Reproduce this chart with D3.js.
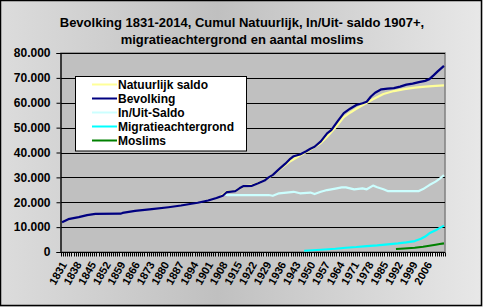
<!DOCTYPE html>
<html><head><meta charset="utf-8">
<script src="https://cdn.jsdelivr.net/npm/d3@7"></script>
<style>
body{margin:0;padding:0;overflow:hidden;}
text{font-family:"Liberation Sans",Arial,sans-serif;font-weight:bold;fill:#000;}
</style></head>
<body><svg id="c" width="483" height="307"></svg>
<script>
const titleLines = ["Bevolking 1831-2014, Cumul Natuurlijk, In/Uit- saldo 1907+,", "migratieachtergrond en aantal moslims"];
const firstYear = 1831, lastYear = 2014;
const yTicks = [0,10000,20000,30000,40000,50000,60000,70000,80000];
const xLabelYears = [1831,1838,1845,1852,1859,1866,1873,1880,1887,1894,1901,1908,1915,1922,1929,1936,1943,1950,1957,1964,1971,1978,1985,1992,1999,2006];

const bevYears  = [1831,1834,1839,1843,1847,1859,1860,1866,1874,1882,1888,1893,1896,1901,1905,1908,1910,1914,1916,1918,1922,1925,1928,1930,1932,1935,1938,1940,1942,1945,1948,1950,1952,1955,1958,1960,1963,1966,1969,1972,1975,1977,1979,1981,1984,1987,1990,1993,1996,1999,2002,2005,2007,2009,2011,2014];
const bevValues = [12000,13200,14000,14800,15300,15400,15700,16500,17200,18000,18700,19400,19800,20700,21700,22600,24100,24500,25600,26500,26600,27600,28700,30000,31000,33300,35500,37200,38500,39200,40500,41500,42300,44500,47700,49000,52500,55800,57600,59100,59800,60400,62500,64000,65400,65700,65900,66500,67300,67700,68300,68800,69500,71000,72600,74800];

const natYears  = [1907,1910,1914,1918,1922,1926,1930,1935,1940,1945,1950,1955,1958,1962,1966,1969,1972,1976,1980,1985,1990,1995,2000,2005,2010,2014];
const natValues = [22400,24300,24600,26400,26800,28000,29800,33000,36300,38800,41200,43800,46300,50000,54200,56000,57600,59500,61400,63500,64700,65500,66100,66500,66800,67000];

const inuitYears  = [1908,1910,1920,1930,1932,1935,1942,1945,1950,1952,1955,1958,1962,1965,1967,1971,1975,1977,1980,1982,1985,1987,2002,2004,2007,2010,2012,2014];
const inuitValues = [23400,22900,22900,22900,22600,23600,24200,23600,23900,23300,24200,24900,25500,26000,26000,25200,25600,25200,26700,26000,25200,24500,24500,25300,26900,28300,29500,30900];

const migYears  = [1947,1955,1962,1967,1972,1977,1982,1987,1992,1996,2000,2003,2005,2007,2010,2012,2014];
const migValues = [500,900,1300,1700,2000,2400,2700,3100,3500,3900,4400,5300,6200,7500,8700,9700,10600];

const mosYears  = [1991,1995,2000,2004,2007,2010,2012,2014];
const mosValues = [1200,1400,1700,2100,2500,2900,3200,3500];

const seriesNames  = ["Natuurlijk saldo","Bevolking","In/Uit-Saldo","Migratieachtergrond","Moslims"];
const seriesColors = ["#ffff99","#000080","#ccffff","#00ffff","#008000"];

const svg = d3.select("#c");
const defs = svg.append("defs");
const g = defs.append("linearGradient").attr("id","bg").attr("x1","0").attr("x2","1").attr("y1","0").attr("y2","0");
g.append("stop").attr("offset","0").attr("stop-color","#dcdcdc");
g.append("stop").attr("offset","0.45").attr("stop-color","#c0c0c0");
g.append("stop").attr("offset","1").attr("stop-color","#e8e8e8");
svg.append("rect").attr("x",0).attr("y",0).attr("width",483).attr("height",307).attr("fill","url(#bg)");
svg.append("rect").attr("x",0.5).attr("y",0.5).attr("width",481).attr("height",305).attr("fill","none").attr("stroke","#000").attr("stroke-width",1.5);

const L=61,R=445,T=53,B=252;
const years = d3.range(firstYear,lastYear+1);
const x = d3.scaleBand().domain(years).range([L,R]).padding(0);
const y = d3.scaleLinear().domain([0,80000]).range([B,T]);
const cx = yr => x(yr)+x.bandwidth()/2;

svg.append("rect").attr("x",L).attr("y",T).attr("width",R-L).attr("height",B-T).attr("fill","#c0c0c0").attr("stroke","#808080").attr("stroke-width",1.5);

// gridlines
svg.append("g").selectAll("line").data(yTicks.filter(d=>d>0)).join("line")
  .attr("x1",L).attr("x2",R).attr("y1",d=>Math.round(y(d))+0.5).attr("y2",d=>Math.round(y(d))+0.5)
  .attr("stroke","#000").attr("stroke-width",1);

// y axis
const fmt = d3.formatLocale({decimal:",",thousands:".",grouping:[3],currency:["€",""]}).format(",");
const ya = svg.append("g").attr("transform",`translate(${L-0.5},0)`)
  .call(d3.axisLeft(y).tickValues(yTicks).tickFormat(fmt).tickSize(4).tickPadding(6));
ya.select(".domain").attr("stroke","#000").attr("stroke-width",1.2);
ya.selectAll(".tick line").attr("stroke","#000");
ya.selectAll("text").style("font-size","12px").style("font-family","Liberation Sans, Arial").style("font-weight","bold");

// x axis
const xa = svg.append("g").attr("transform",`translate(0,${B+0.5})`);
xa.append("line").attr("x1",L).attr("x2",R).attr("stroke","#000").attr("stroke-width",1.2);
xa.selectAll("line.t").data(years.concat([lastYear+1])).join("line").attr("class","t")
  .attr("x1",d=>d<=lastYear?Math.round(x(d))+0.5:R+0.5).attr("x2",d=>d<=lastYear?Math.round(x(d))+0.5:R+0.5)
  .attr("y1",0).attr("y2",4).attr("stroke","#000");
xa.selectAll("text").data(xLabelYears).join("text")
  .attr("transform",d=>`translate(${cx(d)+2},${10}) rotate(-60)`)
  .attr("text-anchor","end").attr("dy","0.35em").style("font-size","11px").text(d=>d);

// lines
const line = d3.line().x(d=>cx(d[0])).y(d=>y(d[1]));
const zip=(a,b)=>a.map((v,i)=>[v,b[i]]);
const data = [zip(natYears,natValues),zip(bevYears,bevValues),zip(inuitYears,inuitValues),zip(migYears,migValues),zip(mosYears,mosValues)];
const order=[2,3,4,0,1];
order.forEach(i=>{
  svg.append("path").datum(data[i]).attr("d",line).attr("fill","none")
    .attr("stroke",seriesColors[i]).attr("stroke-width",2.2).attr("stroke-linejoin","round");
});

// legend
const lg = svg.append("g");
lg.append("rect").attr("x",75.5).attr("y",76.5).attr("width",171).attr("height",74.5).attr("fill","#fff").attr("stroke","#000");
seriesNames.forEach((n,i)=>{
  const yy = 84.5 + i*14;
  lg.append("line").attr("x1",92).attr("x2",117).attr("y1",yy).attr("y2",yy).attr("stroke",seriesColors[i]).attr("stroke-width",2);
  lg.append("text").attr("x",118).attr("y",yy).attr("dy","0.36em").style("font-size","12px").text(n);
});

// title
titleLines.forEach((t,i)=>{
  svg.append("text").attr("x",242).attr("y",27+i*17).attr("text-anchor","middle").style("font-size","13px").text(t);
});
</script></body></html>
